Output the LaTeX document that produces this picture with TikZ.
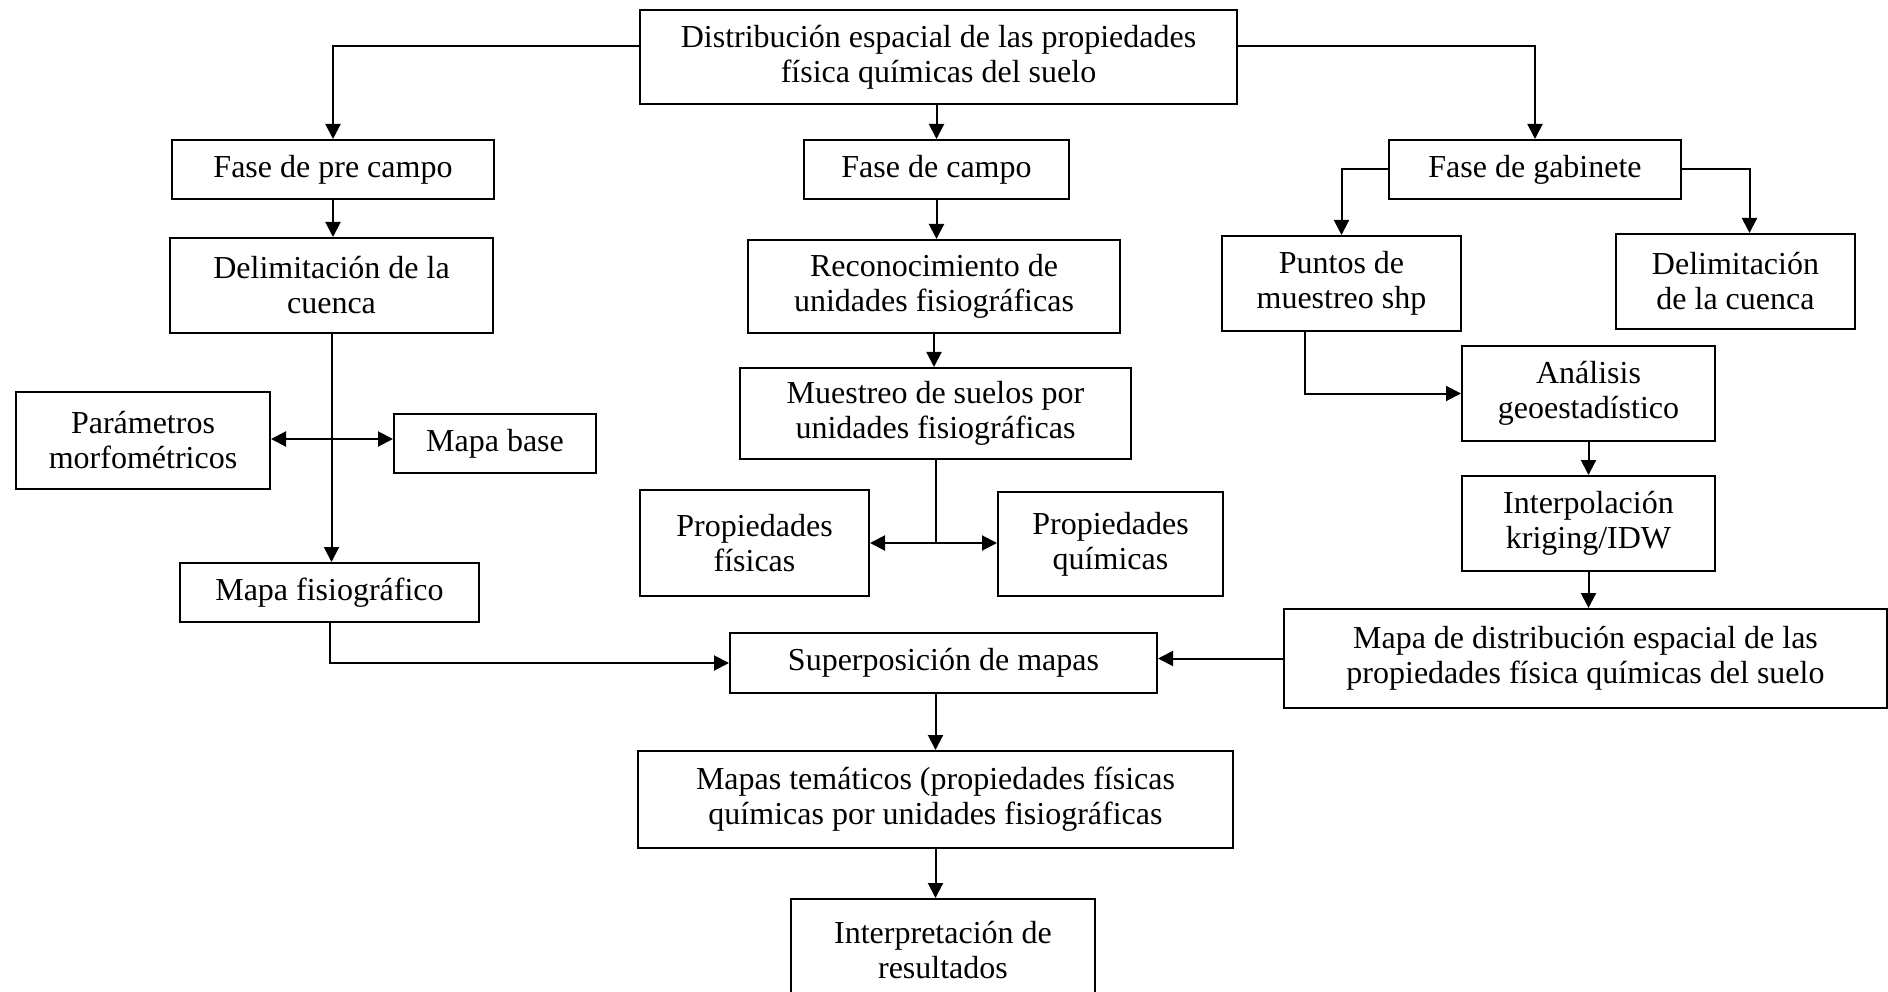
\documentclass[tikz,border=0pt]{standalone}
\usepackage{fontspec}
\setmainfont{Liberation Serif}
\usetikzlibrary{arrows.meta}

\begin{document}
\begin{tikzpicture}[x=1pt,y=-1pt,
  caja/.style={draw, line width=2pt, align=center, inner sep=4pt, font=\fontsize{32}{35}\selectfont},
  flecha/.style={line width=2pt, -{Triangle[width=15pt,length=15pt]}},
  linea/.style={line width=2pt}]
  \useasboundingbox (0,0) rectangle (1888,992);
  \clip (0,0) rectangle (1888,992);

  % titulo
  \node[caja, minimum width=597pt, minimum height=94pt] (dist) at (938.5,57) {Distribución espacial de las propiedades\\física químicas del suelo};

  % fases
  \node[caja, minimum width=322pt, minimum height=59pt] (precampo) at (333,169.5) {Fase de pre campo};
  \node[caja, minimum width=265pt, minimum height=59pt] (campo) at (936.5,169.5) {Fase de campo};
  \node[caja, minimum width=292pt, minimum height=59pt] (gabinete) at (1535,169.5) {Fase de gabinete};

  \node[caja, minimum width=323pt, minimum height=95pt] (cuenca) at (331.5,285.5) {Delimitación de la\\cuenca};
  \node[caja, minimum width=372pt, minimum height=93pt] (reconoc) at (934,286.5) {Reconocimiento de\\unidades fisiográficas};
  \node[caja, minimum width=239pt, minimum height=95pt] (puntos) at (1341.5,283.5) {Puntos de\\muestreo shp};
  \node[caja, minimum width=239pt, minimum height=95pt] (cuencaII) at (1735.5,281.5) {Delimitación\\de la cuenca};

  \node[caja, minimum width=254pt, minimum height=97pt] (parametros) at (143,440.5) {Parámetros\\morfométricos};
  \node[caja, minimum width=202pt, minimum height=59pt] (mapabase) at (495,443.5) {Mapa base};
  \node[caja, minimum width=391pt, minimum height=91pt] (muestreo) at (935.5,413.5) {Muestreo de suelos por\\unidades fisiográficas};
  \node[caja, minimum width=253pt, minimum height=95pt] (analisis) at (1588.5,393.5) {Análisis\\geoestadístico};

  \node[caja, minimum width=229pt, minimum height=106pt] (fisicas) at (754.5,543) {Propiedades\\físicas};
  \node[caja, minimum width=225pt, minimum height=104pt] (quimicas) at (1110.5,544) {Propiedades\\químicas};
  \node[caja, minimum width=253pt, minimum height=95pt] (interpol) at (1588.5,523.5) {Interpolación\\kriging/IDW};

  \node[caja, minimum width=299pt, minimum height=59pt] (mapafisio) at (329.5,592.5) {Mapa fisiográfico};
  \node[caja, minimum width=603pt, minimum height=99pt] (mapadist) at (1585.5,658.5) {Mapa de distribución espacial de las\\propiedades física químicas del suelo};
  \node[caja, minimum width=427pt, minimum height=60pt] (superpos) at (943.5,663) {Superposición de mapas};
  \node[caja, minimum width=595pt, minimum height=97pt] (tematicos) at (935.5,799.5) {Mapas temáticos (propiedades físicas\\químicas por unidades fisiográficas};
  \node[caja, minimum width=304pt, minimum height=102pt] (interpret) at (943,950) {Interpretación de\\resultados};

  % conectores del titulo
  \draw[flecha] ([yshift=11pt]dist.west) -| (precampo.north);
  \draw[flecha] ([yshift=11pt]dist.east) -| (gabinete.north);
  \draw[flecha] (campo.north |- dist.south) -- (campo.north);

  % fase de pre campo
  \draw[flecha] (precampo.south) -- (precampo.south |- cuenca.north);
  \coordinate (ramaI) at (cuenca.south |- 0,439);
  \draw[flecha] (cuenca.south) -- (cuenca.south |- mapafisio.north);
  \draw[flecha] (ramaI) -- (ramaI -| parametros.east);
  \draw[flecha] (ramaI) -- (ramaI -| mapabase.west);
  \draw[flecha] (mapafisio.south) |- (superpos.west);

  % fase de campo
  \draw[flecha] (campo.south) -- (campo.south |- reconoc.north);
  \draw[flecha] (reconoc.south) -- (reconoc.south |- muestreo.north);
  \coordinate (ramaII) at (muestreo.south |- 0,543);
  \draw[linea] (muestreo.south) -- (ramaII);
  \draw[flecha] (ramaII) -- (ramaII -| fisicas.east);
  \draw[flecha] (ramaII) -- (ramaII -| quimicas.west);

  % fase de gabinete
  \draw[flecha] (gabinete.west) -| (puntos.north);
  \draw[flecha] (gabinete.east) -| ([xshift=14pt]cuencaII.north);
  \draw[flecha] ([xshift=-37pt]puntos.south) |- (analisis.west);
  \draw[flecha] (analisis) -- (interpol);
  \draw[flecha] (interpol.south) -- (interpol.south |- mapadist.north);
  \draw[flecha] (mapadist.west) -- (mapadist.west -| superpos.east);

  % resultados
  \draw[flecha] (tematicos.north |- superpos.south) -- (tematicos.north);
  \draw[flecha] (tematicos.south) -- (tematicos.south |- interpret.north);
\end{tikzpicture}
\end{document}
